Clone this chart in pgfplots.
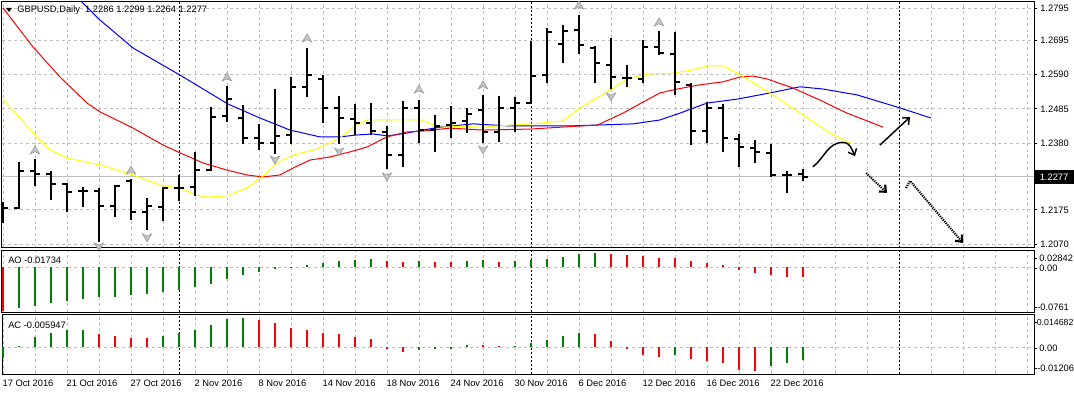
\documentclass[border=0pt]{standalone}
\usepackage{fontspec}
\setmainfont{Liberation Sans}
\usepackage{pgfplots}
\pgfplotsset{compat=1.18}
\usepackage{pgfplotstable}
\usetikzlibrary{arrows.meta}
\definecolor{mtgreen}{HTML}{008000}
\definecolor{mtred}{HTML}{FF0000}
\definecolor{mtyellow}{HTML}{FFFF00}
\definecolor{mtblue}{HTML}{0000FF}
\definecolor{gridgray}{HTML}{C0C0C0}

\pgfdeclareplotmark{fracup}{%
  \pgfpathmoveto{\pgfpoint{0pt}{3pt}}%
  \pgfpathlineto{\pgfpoint{3.5pt}{-3pt}}%
  \pgfpathlineto{\pgfpoint{0pt}{-1.3pt}}%
  \pgfpathlineto{\pgfpoint{-3.5pt}{-3pt}}%
  \pgfpathclose\pgfusepathqfillstroke}
\pgfdeclareplotmark{fracdown}{%
  \pgfpathmoveto{\pgfpoint{0pt}{-3pt}}%
  \pgfpathlineto{\pgfpoint{3.5pt}{3pt}}%
  \pgfpathlineto{\pgfpoint{0pt}{1.3pt}}%
  \pgfpathlineto{\pgfpoint{-3.5pt}{3pt}}%
  \pgfpathclose\pgfusepathqfillstroke}

% OHLC daily bars, GBPUSD
\pgfplotstableread{
i  O      H      L      C
0  1.2181 1.2199 1.2135 1.2181
1  1.2181 1.2322 1.2178 1.2294
2  1.2294 1.2331 1.2248 1.2285
3  1.2285 1.2294 1.2205 1.2254
4  1.2254 1.2257 1.2169 1.2230
5  1.2233 1.2245 1.2184 1.2233
6  1.2233 1.2242 1.2076 1.2187
7  1.2187 1.2251 1.2153 1.2248
8  1.2262 1.2270 1.2144 1.2169
9  1.2169 1.2212 1.2113 1.2187
10 1.2184 1.2245 1.2141 1.2242
11 1.2242 1.2282 1.2202 1.2242
12 1.2245 1.2353 1.2218 1.2297
13 1.2297 1.2491 1.2294 1.2460
14 1.2463 1.2555 1.2445 1.2515
15 1.2457 1.2497 1.2377 1.2396
16 1.2396 1.2439 1.2359 1.2380
17 1.2380 1.2546 1.2347 1.2402
18 1.2405 1.2583 1.2377 1.2552
19 1.2552 1.2672 1.2522 1.2589
20 1.2577 1.2589 1.2442 1.2488
21 1.2488 1.2525 1.2377 1.2457
22 1.2454 1.2500 1.2405 1.2442
23 1.2442 1.2503 1.2405 1.2417
24 1.2414 1.2432 1.2300 1.2344
25 1.2344 1.2509 1.2307 1.2488
26 1.2488 1.2512 1.2380 1.2420
27 1.2420 1.2466 1.2353 1.2432
28 1.2435 1.2494 1.2396 1.2442
29 1.2448 1.2488 1.2411 1.2469
30 1.2482 1.2528 1.2380 1.2414
31 1.2414 1.2525 1.2384 1.2488
32 1.2488 1.2522 1.2414 1.2503
33 1.2503 1.2694 1.2503 1.2586
34 1.2589 1.2734 1.2565 1.2721
35 1.2684 1.2743 1.2626 1.2724
36 1.2727 1.2774 1.2654 1.2681
37 1.2672 1.2678 1.2565 1.2626
38 1.2620 1.2703 1.2546 1.2583
39 1.2580 1.2620 1.2552 1.2580
40 1.2577 1.2697 1.2565 1.2675
41 1.2675 1.2724 1.2651 1.2657
42 1.2654 1.2721 1.2528 1.2568
43 1.2559 1.2565 1.2374 1.2417
44 1.2417 1.2506 1.2380 1.2488
45 1.2488 1.2500 1.2353 1.2396
46 1.2393 1.2408 1.2307 1.2368
47 1.2365 1.2390 1.2319 1.2353
48 1.2350 1.2377 1.2276 1.2282
49 1.2282 1.2294 1.2227 1.2282
50 1.2286 1.2299 1.2264 1.2277
}\ohlc

\pgfplotsset{
  mt/.style={
    scale only axis, width=774pt, anchor=north west,
    xmin=-0.0625, xmax=64.4375,
    scaled ticks=false,
    axis line style={line width=0.75pt},
    xtick={0,2,...,64}, xticklabels={}, xtick style={draw=none},
    xmajorgrids,
    grid style={gridgray, line width=0.6pt, dash pattern=on 2.25pt off 2.25pt},
    extra x ticks={11,33,56}, extra x tick labels={},
    extra x tick style={grid=major, major grid style={black, line width=0.6pt, dash pattern=on 1.5pt off 1.5pt}, major tick length=0pt},
    tick align=outside,
    font=\fontsize{7}{8}\selectfont,
  },
  ohlcbar/.style={draw=none, mark=none,
    error bars/error mark=none,
    error bars/error bar style={draw=black, solid, line width=1.5pt}},
}

\begin{document}
\begin{tikzpicture}[font=\fontsize{7}{8}\selectfont]
\fill[white] (0,0) rectangle (805.5pt,-296.25pt);
\path[use as bounding box] (0,0) rectangle (805.5pt,-296.25pt);

% ---------------- main price window ----------------
\begin{axis}[mt, at={(1.5pt,-1.5pt)}, height=184.5pt,
  ymin=1.20577, ymax=1.28134,
  ytick={1.2070,1.2175,1.2380,1.2485,1.2590,1.2695,1.2795},
  yticklabels={1.2070,1.2175,1.2380,1.2485,1.2590,1.2695,1.2795},
  ytick pos=right, yticklabel pos=right, ymajorgrids,
  ytick style={black, line width=0.6pt}, major tick length=2.5pt,
  yticklabel style={anchor=west, inner sep=0pt, xshift=2pt},
  extra y ticks={1.2277}, extra y tick labels={},
  extra y tick style={grid=major, major grid style={solid, gridgray, line width=0.75pt}, major tick length=0pt},
]
% Alligator lines
\addplot[mtblue, line width=0.75pt, no marks] coordinates {
(4,1.2859) (4.94,1.2813) (6.06,1.2758) (8.13,1.2672) (11.06,1.2589) (14.06,1.2500)
(16.06,1.2457) (17.94,1.2420) (19.81,1.2399) (21.06,1.2399) (22.13,1.2405) (23.13,1.2408)
(24.06,1.2402) (25.25,1.2411) (26.25,1.2420) (27.31,1.2429) (29.38,1.2439) (31.5,1.2433)
(35.63,1.2433) (39.38,1.2439) (41.06,1.2451) (42.31,1.2472) (44,1.2503) (45.88,1.2515)
(47.94,1.2534) (49.81,1.2553) (51.25,1.2546) (53.38,1.2528) (56.06,1.2488) (58,1.2457)};
\addplot[mtred, line width=0.75pt, no marks] coordinates {
(0,1.2795) (1.88,1.2675) (3.56,1.2583) (5.25,1.2503) (6.06,1.2476) (8.13,1.2426)
(10,1.2374) (11.06,1.2350) (12.5,1.2319) (14,1.2297) (15.25,1.2282) (16.25,1.2276)
(17.3,1.2282) (18.4,1.2310) (19.2,1.2328) (20.4,1.2337) (21.7,1.2353) (22.75,1.2368)
(24,1.2399) (25.25,1.2414) (26.25,1.2417) (27.94,1.2426) (30,1.2420) (32.94,1.2423)
(36.25,1.2433) (37.13,1.2435) (38.75,1.2472) (40,1.2506) (41.06,1.2534) (42.13,1.2546)
(43.56,1.2559) (45,1.2568) (46.06,1.2583) (46.88,1.2586) (47.75,1.2577) (49.38,1.2549)
(51.06,1.2512) (52.75,1.2472) (55,1.2429)};
\addplot[mtyellow, line width=0.75pt, no marks] coordinates {
(0,1.2515) (0.88,1.2466) (1.88,1.2411) (2.94,1.2359) (4,1.2334) (6.06,1.2313)
(8.13,1.2282) (10,1.2248) (11.06,1.2242) (12,1.2221) (12.75,1.2214) (14,1.2218)
(15.25,1.2242) (16.25,1.2279) (17.13,1.2319) (18.13,1.2343) (19.63,1.2362) (21.06,1.2396)
(21.88,1.2429) (22.75,1.2451) (26.06,1.2451) (27.13,1.2433) (30,1.2429) (31.88,1.2436)
(33.13,1.2439) (35,1.2448) (36.06,1.2488) (37.94,1.2543) (39,1.2577) (40.25,1.2592)
(41.88,1.2595) (43.13,1.2605) (44,1.2617) (45,1.2617) (45.88,1.2595) (47.94,1.2534)
(50,1.2466) (51.88,1.2405) (53,1.2380)};
% OHLC bars: high-low
\addplot[ohlcbar, error bars/.cd, y dir=plus, y explicit]
  table[x=i, y=L, y error expr=\thisrow{H}-\thisrow{L}] {\ohlc};
% open ticks
\addplot[ohlcbar, error bars/.cd, x dir=minus, x fixed=0.33]
  table[x=i, y=O] {\ohlc};
% close ticks
\addplot[ohlcbar, error bars/.cd, x dir=plus, x fixed=0.33]
  table[x=i, y=C] {\ohlc};
% fractals
\addplot[only marks, mark=fracup, mark options={fill=gray!45, draw=gray!85, line width=0.4pt}] coordinates {
(2,1.2359) (8,1.2297) (14,1.2583) (19,1.2703) (26,1.2546) (30,1.2559) (36,1.2804) (41,1.2752)};
\addplot[only marks, mark=fracdown, mark options={fill=gray!45, draw=gray!85, line width=0.4pt}] coordinates {
(6,1.2061) (9,1.2089) (17,1.2328) (21,1.2353) (24,1.2276) (30,1.2359) (38,1.2522)};
% hand-drawn forecast arrows
\draw[black, line width=1.1pt, -{Straight Barb[length=4pt,width=7pt]}]
  (axis cs:50.62,1.2307) to[out=38,in=180] (axis cs:52.5,1.2382) to[out=0,in=115] (axis cs:53.25,1.2340);
\draw[black, line width=1.1pt, -{Straight Barb[length=4pt,width=7pt]}]
  (axis cs:54.81,1.2374) -- (axis cs:56.69,1.2460);
\draw[black, line width=1.6pt, dash pattern=on 0.9pt off 0.8pt, -{Straight Barb[length=4pt,width=7pt]}]
  (axis cs:53.94,1.2288) -- (axis cs:55.25,1.2227);
\draw[black, line width=1.6pt, dash pattern=on 0.9pt off 0.8pt, -{Straight Barb[length=4pt,width=7pt]}]
  (axis cs:56.44,1.2242) -- (axis cs:56.69,1.2264) -- (axis cs:60,1.2073);
\end{axis}

% ---------------- AO window ----------------
\begin{axis}[mt, at={(1.5pt,-187.875pt)}, height=46.125pt,
  ymin=-0.0761, ymax=0.02842,
  ytick={0}, yticklabels={}, ytick style={draw=none}, ymajorgrids,
]
\addplot[ycomb, mtgreen, line width=1.5pt, no marks] coordinates {
(1,-0.0685) (2,-0.0657) (3,-0.0611) (4,-0.0571) (5,-0.0543) (6,-0.0514) (7,-0.0503)
(8,-0.0469) (9,-0.0457) (10,-0.0418) (11,-0.0384) (12,-0.0332) (13,-0.0286) (14,-0.0200)
(15,-0.0127) (16,-0.0075) (17,-0.0029) (18,-0.0008) (19,0.0040) (20,0.0074) (21,0.0114)
(22,0.0131) (23,0.0134) (26,0.0098) (29,0.0112) (30,0.0116) (32,0.0114) (33,0.0131)
(34,0.0143) (35,0.0176) (36,0.0228) (37,0.0245)};
\addplot[ycomb, mtred, line width=1.5pt, no marks] coordinates {
(0,-0.0750) (24,0.0100) (25,0.0095) (27,0.0094) (28,0.0092) (31,0.0097) (38,0.0228)
(39,0.0211) (40,0.0183) (41,0.0162) (42,0.0158) (43,0.0114) (44,0.0074) (45,0.0040)
(46,-0.0046) (47,-0.0097) (48,-0.0131) (49,-0.0160) (50,-0.01734)};
\end{axis}

% ---------------- AC window ----------------
\begin{axis}[mt, at={(1.5pt,-235.875pt)}, height=44.625pt,
  ymin=-0.01206, ymax=0.014682,
  ytick={0}, yticklabels={}, ytick style={draw=none}, ymajorgrids,
  xtick={0,4,...,48},
  minor xtick={2,6,...,46,50,52,...,64}, xminorgrids,
  xtick pos=bottom,
  xtick style={black, line width=0.6pt}, major tick length=3pt, minor tick length=0pt,
  xticklabels={17 Oct 2016,21 Oct 2016,27 Oct 2016,2 Nov 2016,8 Nov 2016,14 Nov 2016,18 Nov 2016,24 Nov 2016,30 Nov 2016,6 Dec 2016,12 Dec 2016,16 Dec 2016,22 Dec 2016},
  xticklabel style={anchor=north west, inner sep=0pt, yshift=-1.5pt, xshift=-0.5pt},
]
\addplot[ycomb, mtgreen, line width=1.5pt, no marks] coordinates {
(0,-0.0050) (1,0.0003) (2,0.0045) (3,0.0065) (4,0.0076) (5,0.0079) (10,0.0048)
(11,0.0065) (12,0.0079) (13,0.0098) (14,0.0128) (15,0.0133) (26,-0.0012) (27,-0.0008)
(28,-0.0006) (29,0.0011) (32,0.0006) (33,0.0020) (34,0.0033) (35,0.0051) (36,0.0065)
(42,-0.0033) (48,-0.0085) (49,-0.0073) (50,-0.005947)};
\addplot[ycomb, mtred, line width=1.5pt, no marks] coordinates {
(6,0.0060) (7,0.0048) (8,0.0042) (9,0.0041) (16,0.0121) (17,0.0110) (18,0.0088)
(19,0.0076) (20,0.0065) (21,0.0060) (22,0.0045) (23,0.0038) (24,-0.0008) (25,-0.0020)
(30,0.0009) (31,0.0005) (37,0.0060) (38,0.0029) (39,-0.0006) (40,-0.0033) (41,-0.0042)
(43,-0.0053) (44,-0.0060) (45,-0.0073) (46,-0.0101) (47,-0.0106)};
\end{axis}

% ---------------- texts and labels (pixel units) ----------------
\begin{scope}[x=0.75pt, y=-0.75pt]
\fill[black] (6,8) -- (12,8) -- (9,12) -- cycle;
\node[anchor=west, inner sep=0pt] at (17,10.5) {GBPUSD,Daily\ \ 1.2286 1.2299 1.2264 1.2277};
\node[anchor=west, inner sep=0pt] at (8,260.5) {AO -0.01734};
\node[anchor=west, inner sep=0pt] at (8,325.5) {AC -0.005947};
% current price box
\fill[black] (1035,170.5) rectangle (1076,184);
\node[anchor=west, inner sep=0pt, text=white] at (1039.5,177.5) {1.2277};
% AO scale
\foreach \yy in {258,268,307} {\draw[black, line width=0.6pt] (1034,\yy) -- (1037,\yy);}
\node[anchor=west, inner sep=0pt] at (1039,258) {0.02842};
\node[anchor=west, inner sep=0pt] at (1039,268.5) {0.00};
\node[anchor=west, inner sep=0pt] at (1037,307) {-0.0761};
% AC scale
\foreach \yy in {322,348,368} {\draw[black, line width=0.6pt] (1034,\yy) -- (1037,\yy);}
\node[anchor=west, inner sep=0pt, font=\fontsize{6.6}{8}\selectfont] at (1036.5,322) {0.014682};
\node[anchor=west, inner sep=0pt] at (1039,348.5) {0.00};
\node[anchor=west, inner sep=0pt] at (1037,368) {-0.01206};
\end{scope}
\end{tikzpicture}
\end{document}
